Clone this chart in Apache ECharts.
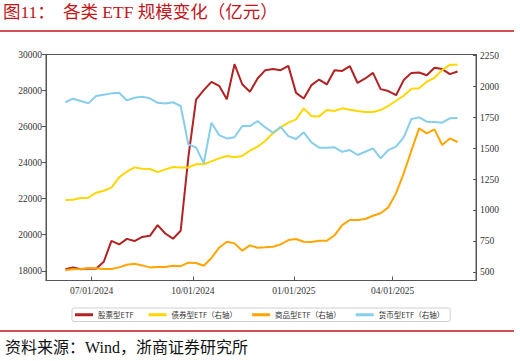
<!DOCTYPE html>
<html>
<head>
<meta charset="utf-8">
<script src="https://cdn.jsdelivr.net/npm/echarts@6/dist/echarts.min.js"></script>
<style>
html,body{margin:0;padding:0;background:#fff;}
#c{width:520px;height:361px;}
</style>
</head>
<body>
<div id="c"></div>
<script>
const dates = ['2024-06-07','2024-06-14','2024-06-21','2024-06-28','2024-07-05','2024-07-12','2024-07-19','2024-07-26',
'2024-08-02','2024-08-09','2024-08-16','2024-08-23','2024-08-30','2024-09-06','2024-09-13','2024-09-20','2024-09-27',
'2024-10-04','2024-10-11','2024-10-18','2024-10-25','2024-11-01','2024-11-08','2024-11-15','2024-11-22','2024-11-29',
'2024-12-06','2024-12-13','2024-12-20','2024-12-27','2025-01-03','2025-01-10','2025-01-17','2025-01-24','2025-01-31',
'2025-02-07','2025-02-14','2025-02-21','2025-02-28','2025-03-07','2025-03-14','2025-03-21','2025-03-28',
'2025-04-04','2025-04-11','2025-04-18','2025-04-25','2025-05-02','2025-05-09','2025-05-16','2025-05-23','2025-05-30'];

const stockETF = [18080,18190,18080,18130,18110,18500,19660,19460,19770,19650,
19880,19940,20530,20070,19780,20220,24300,27500,28020,28480,
28260,27520,29460,28350,27930,28670,29130,29190,29130,29370,
27870,27560,28300,28610,28340,29130,29090,29350,28420,28670,
28980,28080,27970,27740,28580,28980,29000,28850,29260,29190,
28910,29060];

const bondETF = [1084,1087,1100,1103,1143,1159,1184,1267,1313,1348,
1337,1335,1310,1332,1351,1348,1348,1373,1373,1397,
1421,1440,1429,1440,1483,1515,1563,1623,1671,1709,
1736,1825,1763,1760,1811,1803,1825,1814,1803,1795,
1795,1811,1844,1886,1927,1983,1987,2040,2072,2134,
2177,2177];

const commodityETF = [519,524,527,532,532,527,527,540,561,569,
556,540,543,543,553,550,578,575,553,616,
699,747,734,675,718,699,702,707,726,761,
769,747,745,755,755,799,882,923,923,931,
957,977,1025,1138,1300,1483,1663,1623,1655,1529,
1582,1553];

const moneyETF = [1874,1903,1884,1865,1924,1935,1946,1951,1889,1911,
1919,1906,1870,1865,1874,1844,1534,1510,1381,1709,
1609,1582,1591,1682,1682,1722,1671,1628,1676,1601,
1577,1631,1550,1507,1507,1510,1474,1488,1448,1474,
1502,1421,1488,1515,1591,1739,1752,1717,1714,1709,
1744,1747];

const seriesNames = ['股票型ETF','债券型ETF（右轴）','商品型ETF（右轴）','货币型ETF（右轴）'];
const xTickDates = ['2024-07-01','2024-10-01','2025-01-01','2025-04-01'];
const leftTicks = [18000,20000,22000,24000,26000,28000,30000];
const rightTicks = [500,750,1000,1250,1500,1750,2000,2250];

function t(s){ const p = s.split('-').map(Number); return new Date(p[0], p[1]-1, p[2]).getTime(); }
function pad(n){ return (n<10?'0':'') + n; }
function pairs(vals){ return vals.map((v,i)=>[t(dates[i]), v]); }

const xMin = new Date(2024,4,20,10).getTime();
const xMax = new Date(2025,5,15,19).getTime();
const xTickVals = xTickDates.map(t);

const chart = echarts.init(document.getElementById('c'), null, {renderer:'svg'});
const axisColor = '#555';
const serif = "'Liberation Serif','Noto Sans CJK SC'";
const plain = v => String(v);
const option = {
  animation:false,
  color:['#b22222','#ffd700','#ffa500','#87ceeb'],
  graphic:[
    {type:'text', left:3, top:3, style:{text:'图11：', fontSize:17.5, fontFamily:serif, fill:'#c0161c'}},
    {type:'text', left:63, top:3, style:{text:'各类 ETF 规模变化（亿元）', fontSize:17.5, fontFamily:serif, fill:'#c0161c'}},
    {type:'line', shape:{x1:0,y1:31,x2:514,y2:31}, style:{stroke:'#c0161c', lineWidth:1.5}},
    {type:'line', shape:{x1:0,y1:331,x2:514,y2:331}, style:{stroke:'#c0161c', lineWidth:1.5}},
    {type:'text', left:5, top:339, style:{text:'资料来源：Wind，浙商证券研究所', fontSize:16, fontFamily:serif, fill:'#111'}}
  ],
  grid:{left:46, right:44, top:54.5, bottom:80.5, show:true, borderColor:axisColor, borderWidth:1, backgroundColor:'transparent'},
  legend:{
    left:72, top:308, padding:[3,6,3,3], itemGap:15, itemWidth:18, itemHeight:3, icon:'rect',
    borderColor:'#d0d0d0', borderWidth:1, borderRadius:2,
    textStyle:{fontSize:7.5, fontFamily:"'Noto Sans CJK SC'", color:'#333'},
    data:seriesNames
  },
  xAxis:{
    type:'value', min:xMin, max:xMax, scale:true,
    axisLine:{show:true, onZero:false, lineStyle:{color:axisColor}},
    axisTick:{show:true, inside:true, length:4, customValues:xTickVals, lineStyle:{color:axisColor}},
    axisLabel:{customValues:xTickVals, fontSize:9.5, fontFamily:serif, color:'#333', margin:6,
      formatter:function(v){ const d=new Date(v); return pad(d.getMonth()+1)+'/'+pad(d.getDate())+'/'+d.getFullYear(); }},
    splitLine:{show:false}
  },
  yAxis:[
    {type:'value', min:17460, max:30000, position:'left',
      axisLine:{show:true, lineStyle:{color:axisColor}},
      axisTick:{show:true, length:4, customValues:leftTicks, lineStyle:{color:axisColor}},
      axisLabel:{customValues:leftTicks, formatter:plain, fontSize:9.5, fontFamily:serif, color:'#333', margin:4},
      splitLine:{show:false}},
    {type:'value', min:434, max:2260, position:'right',
      axisLine:{show:true, lineStyle:{color:axisColor}},
      axisTick:{show:true, inside:true, length:3, customValues:rightTicks, lineStyle:{color:axisColor}},
      axisLabel:{customValues:rightTicks, formatter:plain, fontSize:9.5, fontFamily:serif, color:'#333', margin:4},
      splitLine:{show:false}}
  ],
  series:[
    {name:seriesNames[0], type:'line', yAxisIndex:0, data:pairs(stockETF), showSymbol:false, lineStyle:{width:2}},
    {name:seriesNames[1], type:'line', yAxisIndex:1, data:pairs(bondETF), showSymbol:false, lineStyle:{width:2}},
    {name:seriesNames[2], type:'line', yAxisIndex:1, data:pairs(commodityETF), showSymbol:false, lineStyle:{width:2}},
    {name:seriesNames[3], type:'line', yAxisIndex:1, data:pairs(moneyETF), showSymbol:false, lineStyle:{width:2}}
  ]
};
chart.setOption(option);
</script>
</body>
</html>
